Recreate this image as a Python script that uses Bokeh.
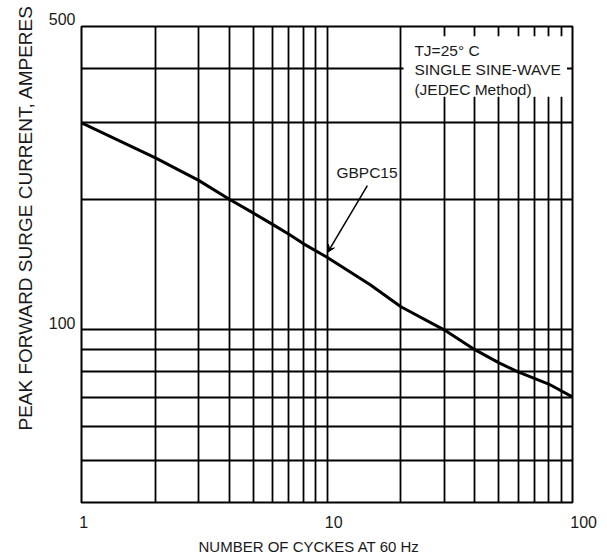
import math
from bokeh.plotting import figure
from bokeh.models import FixedTicker, Label, BoxAnnotation, Arrow, VeeHead, Range1d, Title
from bokeh.embed import file_html
from bokeh.resources import INLINE

# ---- data ----
cycles = [1, 2, 3, 4, 5, 6, 7, 8, 10, 15, 20, 30, 40, 50, 60, 80, 100]
surge_current = [300, 249, 221, 200, 186, 175, 166, 158, 147, 127, 113, 100, 90, 84, 80, 75, 70]

x_major_ticks = [1, 10, 100]
x_minor_ticks = [2, 3, 4, 5, 6, 7, 8, 9, 20, 30, 40, 50, 60, 70, 80, 90]
y_major_ticks = [100, 500]
y_minor_ticks = [40, 50, 60, 70, 80, 90, 200, 300, 400]
x_limits = (1, 100)
y_limits = (40, 500)

series_name = "GBPC15"
note_lines = ["TJ=25° C", "SINGLE SINE-WAVE", "(JEDEC Method)"]
x_title = "NUMBER OF CYCKES AT 60 Hz"
y_title = "PEAK FORWARD SURGE CURRENT, AMPERES"

FONT = "Liberation Sans"
INK = "#1a1a1a"
NBSP = "\u00a0"

p = figure(width=607, height=558, x_axis_type="log", y_axis_type="log",
           x_range=Range1d(*x_limits), y_range=Range1d(*y_limits),
           output_backend="svg", toolbar_location=None,
           min_border_left=81, min_border_right=35, min_border_top=26, min_border_bottom=56)
p.title.visible = False
p.background_fill_color = "white"
p.border_fill_color = "white"
p.outline_line_color = "black"
p.outline_line_width = 2

p.xaxis.ticker = FixedTicker(ticks=x_major_ticks, minor_ticks=x_minor_ticks)
p.yaxis.ticker = FixedTicker(ticks=y_major_ticks, minor_ticks=y_minor_ticks)
# x labels sit to the right of their tick, y labels just above their line
p.xaxis.major_label_overrides = {v: NBSP * (2 * i + 1) + str(v) for i, v in enumerate(x_major_ticks)}
p.yaxis.major_label_overrides = {v: str(v) + "\n" for v in y_major_ticks}

for ax in (p.xaxis[0], p.yaxis[0]):
    ax.axis_line_color = None
    ax.major_tick_out = 0
    ax.major_tick_in = 0
    ax.minor_tick_out = 0
    ax.minor_tick_in = 0
    ax.major_label_text_font = FONT
    ax.major_label_text_font_size = "16px"
    ax.major_label_text_color = INK

p.xaxis.major_label_standoff = 11
p.yaxis.major_label_standoff = 6
p.yaxis.major_label_text_line_height = 0.8

for g in (p.xgrid[0], p.ygrid[0]):
    g.grid_line_color = "black"
    g.grid_line_width = 1.8
    g.minor_grid_line_color = "black"
    g.minor_grid_line_width = 1.8

# curve
p.line(cycles, surge_current, line_color="black", line_width=3)

# white note box hiding the grid
p.add_layout(BoxAnnotation(left=20.5, right=95, bottom=344.6, top=474.8,
                           fill_color="white", fill_alpha=1.0, line_color=None))

note_y = [441, 399, 358.5]
for txt, yy in zip(note_lines, note_y):
    p.add_layout(Label(x=22.7, y=yy, text=txt, text_align="left", text_baseline="middle",
                       text_font=FONT, text_font_size="15.5px", text_color=INK))

# series annotation
p.add_layout(Label(x=14.55, y=230.7, text=series_name, text_align="center", text_baseline="middle",
                   text_font=FONT, text_font_size="15.5px", text_color=INK))
p.add_layout(Arrow(end=VeeHead(size=7, line_color="black", fill_color="black", line_width=1),
                   x_start=14.6, y_start=215, x_end=10.08, y_end=151,
                   line_color="black", line_width=1.5))

# axis titles
p.add_layout(Title(text=x_title, align="left", offset=117, standoff=4,
                   text_font=FONT, text_font_size="15px", text_font_style="normal",
                   text_color=INK), "below")
p.add_layout(Title(text=y_title, align="left", offset=72, standoff=20,
                   text_font=FONT, text_font_size="19px", text_font_style="normal",
                   text_color=INK), "left")

open("out.html", "w").write(file_html(p, INLINE))
